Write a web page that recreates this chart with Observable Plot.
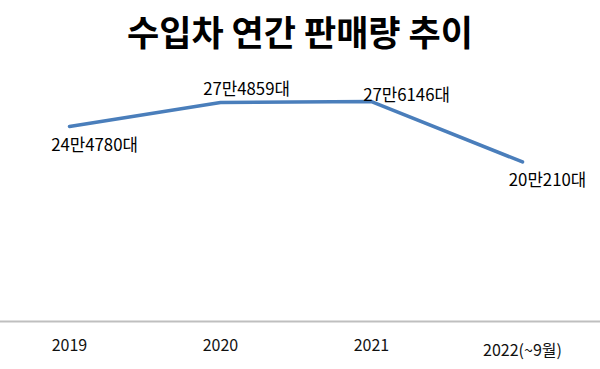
<!DOCTYPE html>
<html><head><meta charset="utf-8">
<script src="https://cdn.jsdelivr.net/npm/d3@7"></script>
<script src="https://cdn.jsdelivr.net/npm/@observablehq/plot@0.6"></script>
<style>
body{margin:0;background:#fff;font-family:"Noto Sans CJK KR","Noto Sans",sans-serif;}
#title{height:70px;line-height:62px;font-size:35px;font-weight:bold;text-align:center;color:#000;box-sizing:border-box;white-space:nowrap;}
</style></head>
<body>
<div id="title">수입차 연간 판매량 추이</div>
<div id="chart"></div>
<script>
const years = ["2019", "2020", "2021", "2022(~9월)"];
const sales = [244780, 274859, 276146, 200210];
const valueLabels = ["24만4780대", "27만4859대", "27만6146대", "20만210대"];
const labelDx = [25, 26, 35, 25];
const labelDy = [19, -13, -6, 19];
const tickDy = [24, 24, 24, 29];

const data = years.map((y, i) => ({year: y, sales: sales[i], label: valueLabels[i], dx: labelDx[i], dy: labelDy[i], tdy: tickDy[i]}));

const textMarks = data.map(d => Plot.text([d], {x: "year", y: "sales", text: "label", dx: d.dx, dy: d.dy, fontSize: 16.8, fill: "#000"}));
const tickMarks = data.map(d => Plot.text([d], {x: "year", y: () => 0, text: "year", dy: d.tdy, fontSize: 16, fill: "#111"}));

const chart = Plot.plot({
  width: 600,
  height: 299,
  marginLeft: 68,
  marginRight: 78,
  marginTop: 12,
  marginBottom: 48,
  style: {fontFamily: '"Noto Sans CJK KR","Noto Sans",sans-serif', background: "#fff"},
  x: {type: "point", domain: years, padding: 0, axis: null},
  y: {domain: [0, 300000], axis: null},
  marks: [
    Plot.ruleY([0], {stroke: "#bfbfbf", strokeWidth: 2, insetLeft: -68, insetRight: -78}),
    Plot.line(data, {x: "year", y: "sales", stroke: "#4a7ebb", strokeWidth: 3.5}),
    ...textMarks,
    ...tickMarks
  ]
});
document.getElementById("chart").appendChild(chart);
</script>
</body></html>
